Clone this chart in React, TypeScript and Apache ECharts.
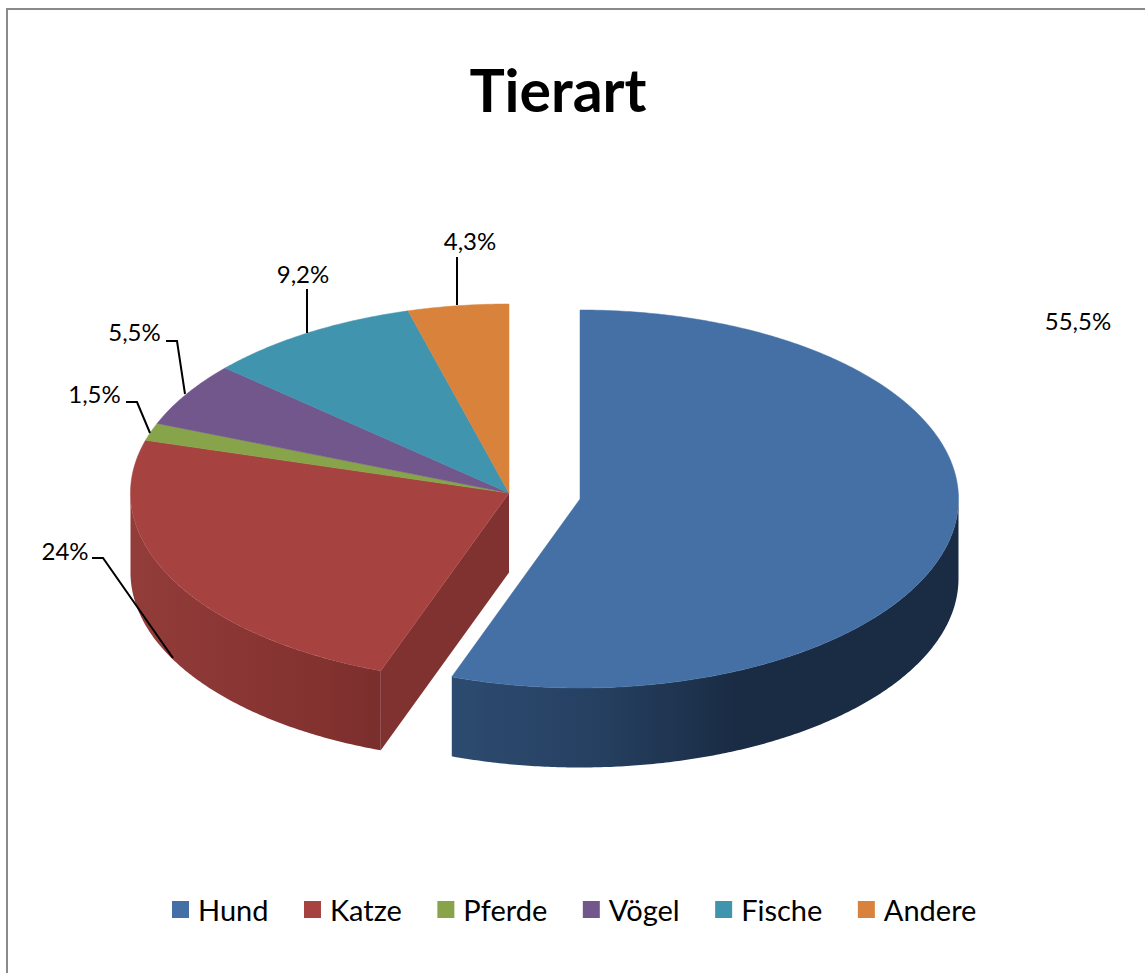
import React, { useEffect, useRef } from "react";
import * as echarts from "echarts";

const categories = ["Hund", "Katze", "Pferde", "Vögel", "Fische", "Andere"];
const values = [55.5, 24, 1.5, 5.5, 9.2, 4.3];
const colors = ["#4570A5", "#A64341", "#88A44A", "#72578D", "#4094AE", "#D8823B"];
const chartTitle = "Tierart";

// layout of the pseudo-3D pie, in pixels
const RX = 378.5;
const RY = 189;
const DEPTH = 79.5;
const CENTER: [number, number] = [509, 493];
const EXPLODED_CENTER: [number, number] = [580, 499];
const FONT = "Lato";

// per-category label anchor and leader line
const labelLayout: { x: number; y: number; line: number[][] }[] = [
  { x: 1078, y: 320, line: [] },
  { x: 65, y: 550, line: [[92, 558], [103, 558], [173, 658]] },
  { x: 94.5, y: 393, line: [[126, 402], [137, 402], [150, 433]] },
  { x: 134.5, y: 331, line: [[166, 341], [177, 341], [185, 394]] },
  { x: 303, y: 273, line: [[307, 289], [307, 333]] },
  { x: 470, y: 240, line: [[457, 257], [457, 305]] },
];

const wallStyles: Record<number, { stops: [number, string][] }> = {
  0: { stops: [[0, "#2D4B70"], [0.3, "#253F60"], [0.56, "#1A2C44"], [1, "#1A2C44"]] },
  1: { stops: [[0, "#933D3A"], [0.35, "#8B3735"], [0.75, "#83322F"], [1, "#7A2F2D"]] },
};

const pointAt = (c: [number, number], deg: number, dy = 0): number[] => {
  const r = (deg * Math.PI) / 180;
  return [c[0] + RX * Math.sin(r), c[1] - RY * Math.cos(r) + dy];
};

const arcPoints = (c: [number, number], from: number, to: number, dy = 0): number[][] => {
  const n = Math.max(2, Math.ceil(Math.abs(to - from) / 0.5));
  const pts: number[][] = [];
  for (let i = 0; i <= n; i++) pts.push(pointAt(c, from + ((to - from) * i) / n, dy));
  return pts;
};

const total = values.reduce((a, b) => a + b, 0);

const renderSlice = (params: any, api: any) => {
  const idx = params.seriesIndex as number;
  const startPct = values.slice(0, idx).reduce((a, b) => a + b, 0);
  const start = (startPct / total) * 360;
  const end = start + ((api.value(0) as number) / total) * 360;
  const c = idx === 0 ? EXPLODED_CENTER : CENTER;
  const color = colors[idx];
  const children: any[] = [];

  // outer wall: the part of the rim on the lower half of the ellipse
  const wallFrom = Math.max(start, 90);
  const wallTo = Math.min(end, 270);
  if (wallTo > wallFrom && wallStyles[idx]) {
    const top = arcPoints(c, wallFrom, wallTo);
    const bottom = arcPoints(c, wallTo, wallFrom, DEPTH);
    children.push({
      type: "polygon",
      shape: { points: [...top, ...bottom] },
      style: {
        fill: new echarts.graphic.LinearGradient(
          0, 0, 1, 0,
          wallStyles[idx].stops.map(([offset, col]) => ({ offset, color: col })),
        ),
      },
    });
  }

  // the visible cut face of the second slice, towards the gap
  if (idx === 1) {
    const e = pointAt(c, start);
    children.push({
      type: "polygon",
      shape: { points: [c, e, [e[0], e[1] + DEPTH], [c[0], c[1] + DEPTH]] },
      style: { fill: "#7F3230" },
    });
  }

  // top surface
  children.push({
    type: "polygon",
    shape: { points: [c, ...arcPoints(c, start, end)] },
    style: { fill: color, stroke: color, lineWidth: 0.5 },
  });

  // leader line and label
  const lay = labelLayout[idx];
  if (lay.line.length) {
    children.push({
      type: "polyline",
      shape: { points: lay.line },
      style: { fill: "none", stroke: "#000000", lineWidth: 2 },
    });
  }
  children.push({
    type: "text",
    x: lay.x,
    y: lay.y,
    style: {
      text: `${String(api.value(0)).replace(".", ",")}%`,
      font: `400 24px ${FONT}`,
      fill: "#000000",
      align: "center",
      verticalAlign: "middle",
    },
  });

  return { type: "group", children };
};

export default function App() {
  const ref = useRef<HTMLDivElement>(null);
  useEffect(() => {
    if (!ref.current) return;
    const chart = echarts.init(ref.current, undefined, { renderer: "svg" });
    chart.setOption({
      animation: false,
      backgroundColor: "#FFFFFF",
      title: {
        text: chartTitle,
        left: 553,
        top: 55,
        textAlign: "center",
        textStyle: { fontFamily: FONT, fontSize: 59, fontWeight: 700, color: "#000000" },
      },
      legend: {
        data: categories,
        left: 167,
        top: 890,
        icon: "rect",
        itemWidth: 17,
        itemHeight: 17,
        itemGap: 35.5,
        selectedMode: false,
        textStyle: { fontFamily: FONT, fontSize: 29, color: "#000000", padding: [0, 0, 0, 4] },
      },
      graphic: [
        { type: "rect", shape: { x: 6, y: 8, width: 1139, height: 2 }, style: { fill: "#8A8A8A" }, silent: true },
        { type: "rect", shape: { x: 6, y: 8, width: 2, height: 965 }, style: { fill: "#8A8A8A" }, silent: true },
      ],
      series: categories.map((name, i) => ({
        type: "custom",
        name,
        coordinateSystem: "none",
        silent: true,
        itemStyle: { color: colors[i] },
        data: [[values[i]]],
        renderItem: renderSlice,
      })),
    });
    return () => chart.dispose();
  }, []);
  return (
    <div
      ref={ref}
      style={{ position: "fixed", left: 0, top: 0, width: 1145, height: 973 }}
    />
  );
}
